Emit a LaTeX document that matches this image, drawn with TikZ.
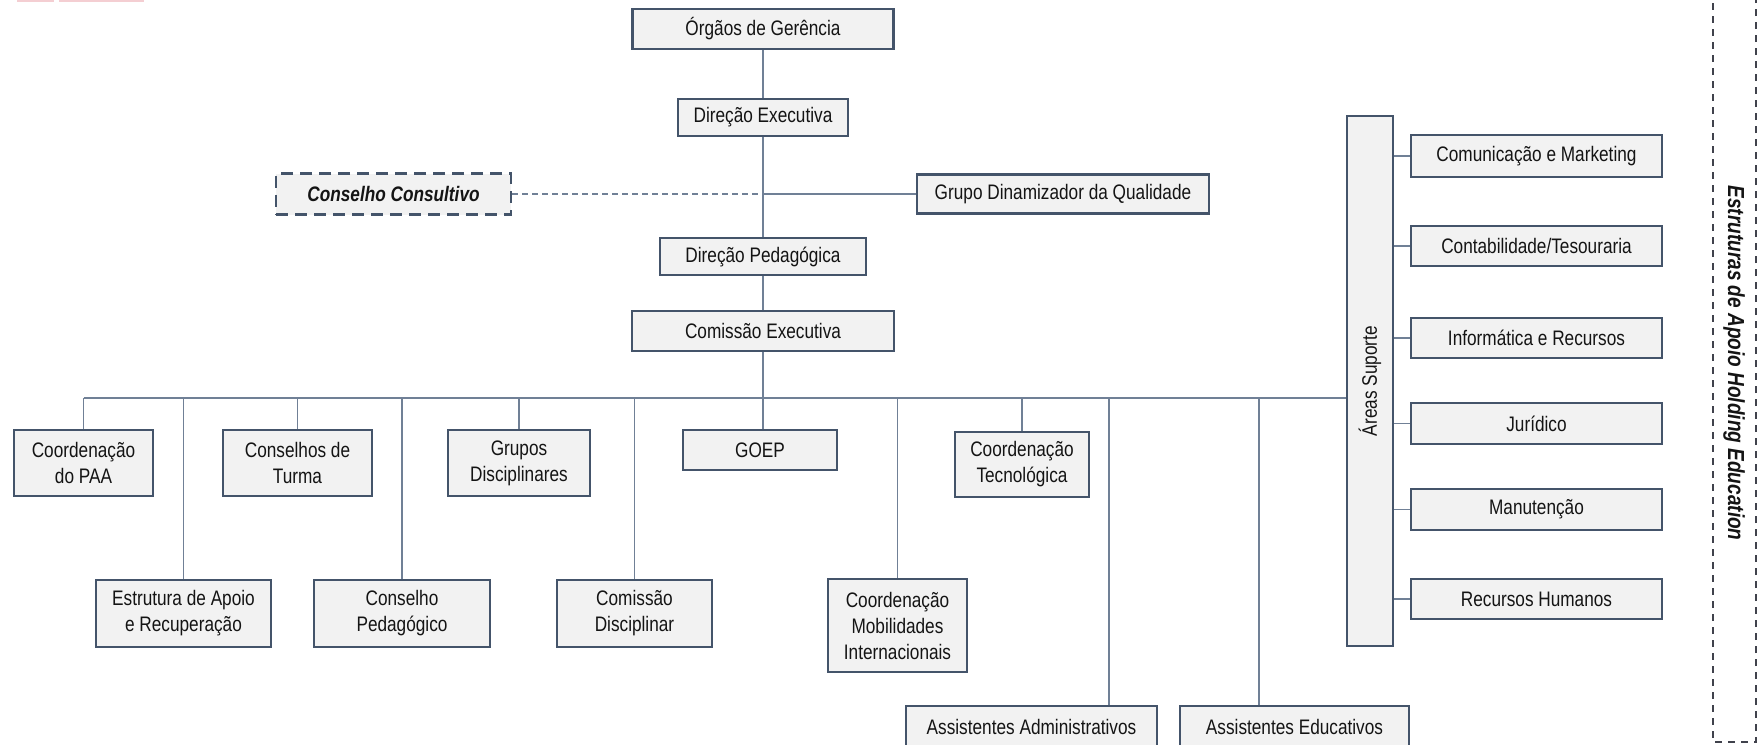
\documentclass[tikz,border=0pt]{standalone}
\usepackage{fontspec}
\setmainfont{Liberation Sans}[FakeStretch=0.82]
\usepackage{xcolor}

\definecolor{boxfill}{RGB}{242,242,242}
\definecolor{boxline}{RGB}{68,84,106}
\definecolor{linkline}{RGB}{112,128,150}
\definecolor{txtgray}{RGB}{20,20,20}
\definecolor{holdline}{RGB}{64,66,76}
\definecolor{pinkmark}{RGB}{244,206,210}

\tikzset{
  orgbox/.style={draw=boxline, fill=boxfill, line width=1.3pt, inner sep=0pt, align=center, text=txtgray, font=\fontsize{10.5}{13}\selectfont},
  advbox/.style={orgbox, dash pattern=on 6pt off 3.5pt, font=\fontsize{10.5}{13}\selectfont\bfseries\itshape},
  link/.style={draw=linkline, line width=0.7pt},
  advlink/.style={link, dash pattern=on 3pt off 2pt},
  sidetext/.style={inner sep=0pt, text=txtgray, font=\fontsize{10.5}{13}\selectfont},
}

\begin{document}
\begin{tikzpicture}[x=0.5pt,y=0.5pt,yscale=-1,xscale=1]
        \useasboundingbox (0,0) rectangle (1758,745);
        \clip (0,0) rectangle (1758,745);
        
        % marks at the top edge
        \fill[pinkmark] (17,0) rectangle (54,2);
        \fill[pinkmark] (59,0) rectangle (144,2);
        
        % Text Node
        \node[orgbox, minimum width=130.5pt, minimum height=20pt] (orgaos) at (763,29) {Órgãos de Gerência};
        % Text Node
        \node[orgbox, minimum width=85pt, minimum height=18.5pt] (dexec) at (763,117.5) {Direção Executiva};
        % Text Node
        \node[advbox, minimum width=117.5pt, minimum height=20.5pt] (ccons) at (393.5,194) {Conselho Consultivo};
        % Text Node
        \node[orgbox, minimum width=146pt, minimum height=19.5pt] (gdq) at (1063,194) {Grupo Dinamizador da Qualidade};
        % Text Node
        \node[orgbox, minimum width=103pt, minimum height=18.5pt] (dped) at (763,256.5) {Direção Pedagógica};
        % Text Node
        \node[orgbox, minimum width=131pt, minimum height=20pt] (cexec) at (763,331) {Comissão Executiva};
        
        % first row
        \node[orgbox, minimum width=69.5pt, minimum height=33pt] (paa) at (83.5,463) {Coordenação\\do PAA};
        \node[orgbox, minimum width=74.5pt, minimum height=33pt] (cturma) at (297.5,463) {Conselhos de\\Turma};
        \node[orgbox, minimum width=71pt, minimum height=33pt] (gdisc) at (519,463) {Grupos\\Disciplinares};
        \node[orgbox, minimum width=77pt, minimum height=20pt] (goep) at (760,450) {GOEP};
        \node[orgbox, minimum width=67pt, minimum height=32.5pt] (ctec) at (1022,464.5) {Coordenação\\Tecnológica};
        
        % second row
        \node[orgbox, minimum width=87.5pt, minimum height=33.5pt] (estr) at (183.5,613.5) {Estrutura de Apoio\\e Recuperação};
        \node[orgbox, minimum width=88pt, minimum height=33.5pt] (cped) at (402,613.5) {Conselho\\Pedagógico};
        \node[orgbox, minimum width=77.5pt, minimum height=33.5pt] (cdisc) at (634.5,613.5) {Comissão\\Disciplinar};
        \node[orgbox, minimum width=69.5pt, minimum height=46.5pt] (cmob) at (897.5,625.5) {Coordenação\\Mobilidades\\Internacionais};
        
        % third row
        \node[orgbox, minimum width=125.5pt, minimum height=21pt] (adm) at (1031.5,727) {Assistentes Administrativos};
        \node[orgbox, minimum width=114.5pt, minimum height=21pt] (educ) at (1294.5,727) {Assistentes Educativos};
        
        % support areas
        \node[orgbox, minimum width=23pt, minimum height=265pt] (areasbox) at (1370,381) {};
        \node[sidetext, rotate=90] (areastxt) at (areasbox) {Áreas Suporte};
        \node[orgbox, minimum width=125.5pt, minimum height=21pt] (com) at (1536.5,156) {Comunicação e Marketing};
        \node[orgbox, minimum width=125.5pt, minimum height=20pt] (cont) at (1536.5,246) {Contabilidade/Tesouraria};
        \node[orgbox, minimum width=125.5pt, minimum height=20pt] (info) at (1536.5,338) {Informática e Recursos};
        \node[orgbox, minimum width=125.5pt, minimum height=20.5pt] (jur) at (1536.5,423.5) {Jurídico};
        \node[orgbox, minimum width=125.5pt, minimum height=20.5pt] (man) at (1536.5,509.5) {Manutenção};
        \node[orgbox, minimum width=125.5pt, minimum height=20pt] (rh) at (1536.5,599) {Recursos Humanos};
        
        % holding frame
        \draw[holdline, line width=0.8pt, dash pattern=on 3.5pt off 3pt] (1713,-10) rectangle (1756,742);
        \node[sidetext, rotate=-90, font=\fontsize{11.6}{14}\selectfont\bfseries\itshape] (holdtxt) at (1734,363) {Estruturas de Apoio Holding Education};
        
        %Straight Lines
        \draw[link] (orgaos) -- (dexec);
        \draw[link] (dexec) -- (dped);
        \draw[link] (dped) -- (cexec);
        \draw[link] (cexec.south) -- (cexec.south |- goep.north);
        \draw[advlink] (ccons) -- (ccons -| dexec);
        \draw[link] (gdq -| dexec) -- (gdq);
        
        %Straight Lines
        \coordinate (bus) at (763,398);
        \coordinate (admtop) at (1109,398);
        \coordinate (edutop) at (1259,398);
        \draw[link] (paa.north |- bus) -- (bus -| areasbox.west);
        \foreach \n in {paa,cturma,gdisc,ctec,estr,cped,cdisc,cmob}
          \draw[link] (\n.north) -- (\n.north |- bus);
        \draw[link] (admtop) -- (adm.north -| admtop);
        \draw[link] (edutop) -- (educ.north -| edutop);
        \foreach \n in {com,cont,info,jur,man,rh}
          \draw[link] (areasbox.east |- \n.west) -- (\n.west);
        
\end{tikzpicture}
\end{document}
